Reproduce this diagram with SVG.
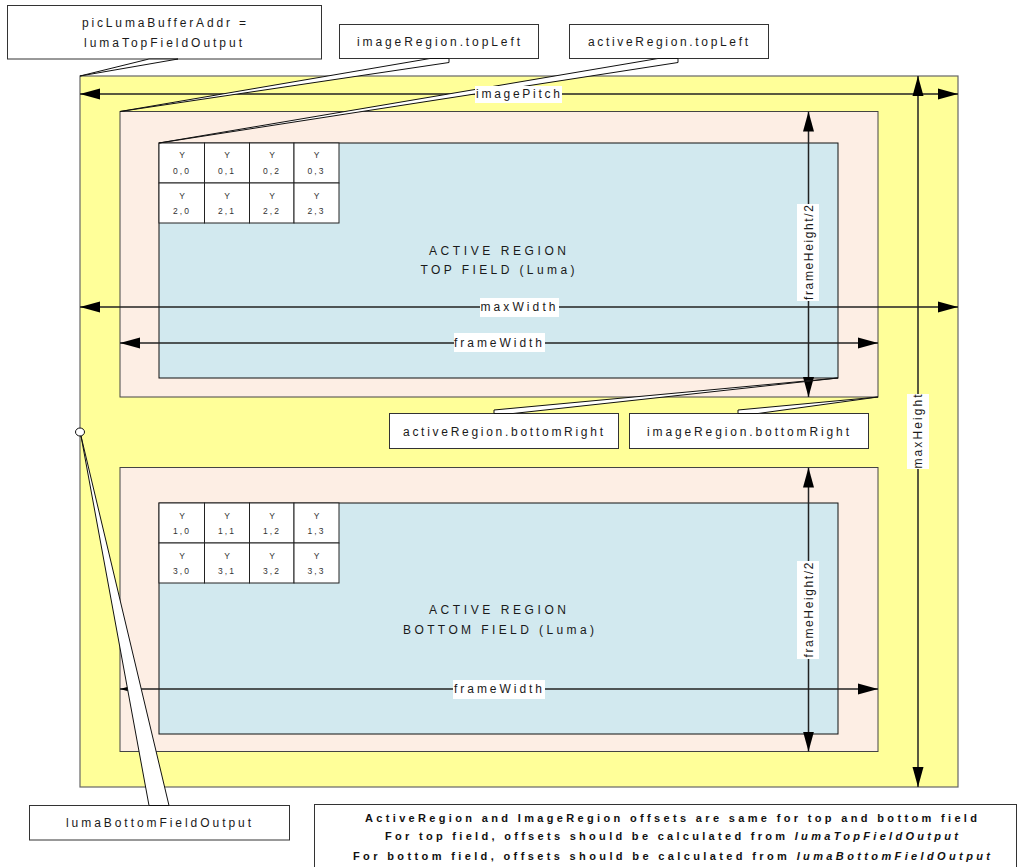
<svg xmlns="http://www.w3.org/2000/svg" width="1021" height="867" viewBox="0 0 1021 867">
<style>
.t{font-family:"Liberation Sans",Arial,sans-serif;font-size:12px;fill:#1a1a1a;text-anchor:middle}
.c{font-family:"Liberation Sans",Arial,sans-serif;font-size:8.5px;fill:#333;text-anchor:middle}
.n{font-family:"Liberation Sans",Arial,sans-serif;font-size:11px;font-weight:bold;fill:#111;text-anchor:middle}
.box{fill:#fff;stroke:#333;stroke-width:1}
.lbl{fill:#fff}
.dim{stroke:#222;stroke-width:1.5;fill:none;marker-start:url(#ah);marker-end:url(#ah)}
.wedge{fill:#fff;stroke:#111;stroke-width:1;stroke-linejoin:miter}
.cell{fill:#fff;stroke:#222;stroke-width:1}
</style>
<defs>
<marker id="ah" markerUnits="userSpaceOnUse" markerWidth="20" markerHeight="12" refX="20" refY="6" orient="auto-start-reverse">
<path d="M0,0.5 L20,6 L0,11.5 z" fill="#000"/>
</marker>
</defs>
<rect width="1021" height="867" fill="#fff"/>
<g id="image-buffer">
<rect x="80" y="76" width="878" height="711" fill="#ffff99" stroke="#666" stroke-width="1.2"/>
</g>
<g id="top-image-region">
<rect x="120" y="111.5" width="758" height="285.5" fill="#fdeee4" stroke="#444" stroke-width="1"/>
</g>
<g id="top-active-region">
<rect x="159" y="143" width="679" height="235" fill="#d2e9ef" stroke="#111" stroke-width="1"/>
<text class="t" x="497.5" y="255" textLength="137" lengthAdjust="spacing">ACTIVE REGION</text>
<text class="t" x="497.5" y="274" textLength="154" lengthAdjust="spacing">TOP FIELD (Luma)</text>
</g>
<g id="top-cells">
<rect class="cell" x="159" y="143" width="45.5" height="40"/>
<rect class="cell" x="204.5" y="143" width="45" height="40"/>
<rect class="cell" x="249.5" y="143" width="44.5" height="40"/>
<rect class="cell" x="294" y="143" width="45" height="40"/>
<rect class="cell" x="159" y="183" width="45.5" height="40"/>
<rect class="cell" x="204.5" y="183" width="45" height="40"/>
<rect class="cell" x="249.5" y="183" width="44.5" height="40"/>
<rect class="cell" x="294" y="183" width="45" height="40"/>
<text class="c" x="182" y="158">Y</text><text class="c" x="182" y="174" letter-spacing="2">0,0</text>
<text class="c" x="227" y="158">Y</text><text class="c" x="227" y="174" letter-spacing="2">0,1</text>
<text class="c" x="272" y="158">Y</text><text class="c" x="272" y="174" letter-spacing="2">0,2</text>
<text class="c" x="316.5" y="158">Y</text><text class="c" x="316.5" y="174" letter-spacing="2">0,3</text>
<text class="c" x="182" y="199">Y</text><text class="c" x="182" y="214" letter-spacing="2">2,0</text>
<text class="c" x="227" y="199">Y</text><text class="c" x="227" y="214" letter-spacing="2">2,1</text>
<text class="c" x="272" y="199">Y</text><text class="c" x="272" y="214" letter-spacing="2">2,2</text>
<text class="c" x="316.5" y="199">Y</text><text class="c" x="316.5" y="214" letter-spacing="2">2,3</text>
</g>
<g id="bottom-image-region">
<rect x="120" y="467.5" width="758" height="284" fill="#fdeee4" stroke="#444" stroke-width="1"/>
</g>
<g id="bottom-active-region">
<rect x="159" y="503" width="679" height="231" fill="#d2e9ef" stroke="#111" stroke-width="1"/>
<text class="t" x="497.5" y="614" textLength="137" lengthAdjust="spacing">ACTIVE REGION</text>
<text class="t" x="498.5" y="634" textLength="191" lengthAdjust="spacing">BOTTOM FIELD (Luma)</text>
</g>
<g id="bottom-cells">
<rect class="cell" x="159" y="503" width="45.5" height="40"/>
<rect class="cell" x="204.5" y="503" width="45" height="40"/>
<rect class="cell" x="249.5" y="503" width="44.5" height="40"/>
<rect class="cell" x="294" y="503" width="45" height="40"/>
<rect class="cell" x="159" y="543" width="45.5" height="40"/>
<rect class="cell" x="204.5" y="543" width="45" height="40"/>
<rect class="cell" x="249.5" y="543" width="44.5" height="40"/>
<rect class="cell" x="294" y="543" width="45" height="40"/>
<text class="c" x="182" y="519">Y</text><text class="c" x="182" y="534" letter-spacing="2">1,0</text>
<text class="c" x="227" y="519">Y</text><text class="c" x="227" y="534" letter-spacing="2">1,1</text>
<text class="c" x="272" y="519">Y</text><text class="c" x="272" y="534" letter-spacing="2">1,2</text>
<text class="c" x="316.5" y="519">Y</text><text class="c" x="316.5" y="534" letter-spacing="2">1,3</text>
<text class="c" x="182" y="559">Y</text><text class="c" x="182" y="574" letter-spacing="2">3,0</text>
<text class="c" x="227" y="559">Y</text><text class="c" x="227" y="574" letter-spacing="2">3,1</text>
<text class="c" x="272" y="559">Y</text><text class="c" x="272" y="574" letter-spacing="2">3,2</text>
<text class="c" x="316.5" y="559">Y</text><text class="c" x="316.5" y="574" letter-spacing="2">3,3</text>
</g>
<g id="connectors">
<line class="dim" x1="80" y1="94" x2="958" y2="94"/>
<line class="dim" x1="80" y1="307" x2="958" y2="307"/>
<line class="dim" x1="120" y1="343" x2="878" y2="343"/>
<line class="dim" x1="120" y1="689" x2="878" y2="689"/>
<line class="dim" x1="808.5" y1="111.5" x2="808.5" y2="397"/>
<line class="dim" x1="808.5" y1="467.5" x2="808.5" y2="751.5"/>
<line class="dim" x1="918" y1="76" x2="918" y2="787"/>
</g>
<g id="callout-picLumaBufferAddr">
<rect class="box" x="7.5" y="5.5" width="314" height="53.5"/>
<text class="t" x="164" y="27" textLength="164" lengthAdjust="spacing">picLumaBufferAddr =</text>
<text class="t" x="163" y="47" textLength="158" lengthAdjust="spacing">lumaTopFieldOutput</text>
<polygon class="wedge" points="149,59 80,76 178,59"/>
</g>
<g id="callout-imageRegion-topLeft">
<rect class="box" x="339.5" y="24.5" width="199" height="34"/>
<text class="t" x="438.5" y="46" textLength="163" lengthAdjust="spacing">imageRegion.topLeft</text>
<polygon class="wedge" points="430,58.5 120,111.5 449,62.5 449,58.5"/>
</g>
<g id="callout-activeRegion-topLeft">
<rect class="box" x="569.5" y="24.5" width="199" height="34"/>
<text class="t" x="668" y="46" textLength="160" lengthAdjust="spacing">activeRegion.topLeft</text>
<polygon class="wedge" points="658,58.5 159,143 678,62.5 678,58.5"/>
</g>
<g id="callout-activeRegion-bottomRight">
<rect class="box" x="389.5" y="413.5" width="229" height="35"/>
<text class="t" x="503" y="436" textLength="200" lengthAdjust="spacing">activeRegion.bottomRight</text>
<polygon class="wedge" points="494,413.5 494,410 838,378 513,413.5"/>
</g>
<g id="callout-imageRegion-bottomRight">
<rect class="box" x="629.5" y="413.5" width="239" height="35"/>
<text class="t" x="748" y="436" textLength="202" lengthAdjust="spacing">imageRegion.bottomRight</text>
<polygon class="wedge" points="738,413.5 738,410 878,397 758,413.5"/>
</g>
<g id="callout-lumaBottomFieldOutput">
<rect class="box" x="29.5" y="805.5" width="260" height="34.5"/>
<text class="t" x="158.5" y="827" textLength="185" lengthAdjust="spacing">lumaBottomFieldOutput</text>
<polygon class="wedge" points="81,436 149,805.5 169,805.5"/>
<ellipse cx="80" cy="432" rx="4.5" ry="4" fill="#fff" stroke="#111" stroke-width="1"/>
</g>
<g id="dimension-labels">
<rect class="lbl" x="475" y="86" width="87" height="17"/>
<text class="t" x="518" y="98" textLength="84" lengthAdjust="spacing">imagePitch</text>
<rect class="lbl" x="480" y="298" width="79" height="19"/>
<text class="t" x="518" y="311" textLength="75" lengthAdjust="spacing">maxWidth</text>
<rect class="lbl" x="454" y="333" width="91" height="19"/>
<text class="t" x="498" y="347" textLength="88" lengthAdjust="spacing">frameWidth</text>
<rect class="lbl" x="453" y="680" width="92" height="19"/>
<text class="t" x="498" y="693" textLength="88" lengthAdjust="spacing">frameWidth</text>
<rect class="lbl" x="797" y="204" width="22" height="97"/>
<text class="t" transform="translate(812.5,252.5) rotate(-90)" x="0" y="0" textLength="95" lengthAdjust="spacing">frameHeight/2</text>
<rect class="lbl" x="797" y="561" width="22" height="98"/>
<text class="t" transform="translate(812.5,610) rotate(-90)" x="0" y="0" textLength="95" lengthAdjust="spacing">frameHeight/2</text>
<rect class="lbl" x="907" y="394" width="22" height="75"/>
<text class="t" transform="translate(922,431.5) rotate(-90)" x="0" y="0" textLength="74" lengthAdjust="spacing">maxHeight</text>
</g>
<g id="note">
<rect class="box" x="314.5" y="804.5" width="702" height="70"/>
<text class="n" x="671" y="822" textLength="612" lengthAdjust="spacing">ActiveRegion and ImageRegion offsets are same for top and bottom field</text>
<text class="n" x="671.5" y="840" textLength="573" lengthAdjust="spacing">For top field, offsets should be calculated from <tspan font-style="italic">lumaTopFieldOutput</tspan></text>
<text class="n" x="671.5" y="860" textLength="637" lengthAdjust="spacing">For bottom field, offsets should be calculated from <tspan font-style="italic">lumaBottomFieldOutput</tspan></text>
</g>
</svg>
